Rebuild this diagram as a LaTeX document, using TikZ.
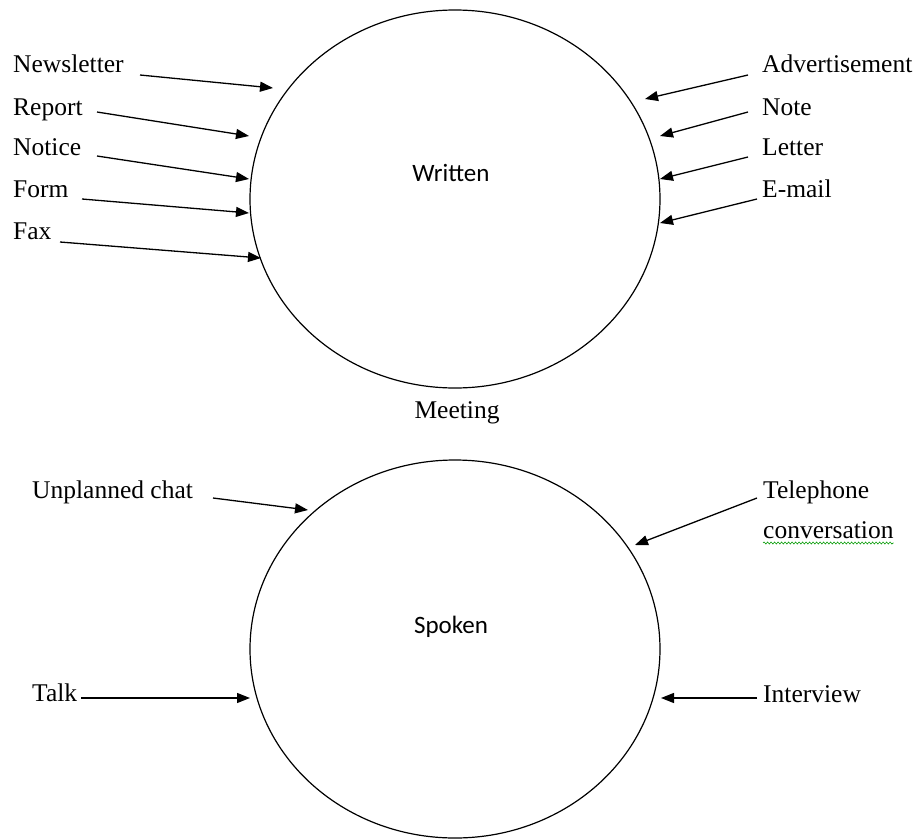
\documentclass[tikz,border=0pt]{standalone}
\usepackage{fontspec}
\setmainfont{Liberation Serif}
\newfontfamily\calfont{Carlito}
\usetikzlibrary{arrows.meta,shapes.geometric,decorations.pathmorphing}
\tikzset{
  lbl/.style={anchor=base west, inner sep=0pt, font=\fontsize{25.5}{30}\selectfont},
  ctr/.style={anchor=base, inner sep=0pt, font=\fontsize{25.5}{30}\selectfont},
  big/.style={draw, ellipse, line width=1.2pt, inner sep=0pt, outer sep=0pt, minimum width=410pt, minimum height=378pt},
  arr/.style={line width=1.3pt, -{Triangle[length=13pt,width=10pt]}},
  title/.style={anchor=base, inner sep=0pt, font=\calfont\fontsize{25}{30}\selectfont},
  squiggle/.style={draw=green!60!black, line width=0.6pt, decorate, decoration={snake, amplitude=1pt, segment length=3.5pt}}
}
\begin{document}
\begin{tikzpicture}[x=1pt,y=-1pt]
\useasboundingbox (0,0) rectangle (917,838);
% circles
\node[big] (W) at (455,199) {};
\node[big] (S) at (455,649) {};
\node[title] (wt) at (451,181) {Written};
\node[title] (st) at (451,633) {Spoken};
\node[ctr] (meet) at (457,418) {Meeting};
% left labels (written)
\node[lbl] (nl) at (13,72) {Newsletter};
\node[lbl] (rp) at (13,115) {Report};
\node[lbl] (nt) at (13,155) {Notice};
\node[lbl] (fm) at (13,197) {Form};
\node[lbl] (fx) at (13,239) {Fax};
% right labels (written)
\node[lbl] (ad) at (762,72) {Advertisement};
\node[lbl] (no) at (762,115) {Note};
\node[lbl] (le) at (762,155) {Letter};
\node[lbl] (em) at (762,197) {E-mail};
% spoken labels
\node[lbl] (uc) at (32,498) {Unplanned chat};
\node[lbl] (tk) at (32,701) {Talk};
\node[lbl] (tel) at (763,498) {Telephone};
\node[lbl] (conv) at (763,538) {conversation};
\node[lbl] (iv) at (763,702) {Interview};
% arrow coordinates
\coordinate (nlA) at (140,75);  \coordinate (nlB) at (273,88);
\coordinate (rpA) at (97,112);  \coordinate (rpB) at (249,136);
\coordinate (ntA) at (97,156);  \coordinate (ntB) at (249,179);
\coordinate (fmA) at (82,199);  \coordinate (fmB) at (249,213);
\coordinate (fxA) at (60,242);  \coordinate (fxB) at (261,258);
\coordinate (adA) at (748,75);  \coordinate (adB) at (645,99);
\coordinate (noA) at (748,112); \coordinate (noB) at (660,136);
\coordinate (leA) at (748,157); \coordinate (leB) at (660,179);
\coordinate (emA) at (757,199); \coordinate (emB) at (660,223);
\coordinate (ucA) at (213,498); \coordinate (ucB) at (308,510);
\coordinate (tkA) at (81,698);  \coordinate (tkB) at (250,698);
\coordinate (telA) at (757,498); \coordinate (telB) at (635,545);
\coordinate (ivA) at (757,698); \coordinate (ivB) at (661,698);
\draw[arr] (nlA) -- (nlB);
\draw[arr] (rpA) -- (rpB);
\draw[arr] (ntA) -- (ntB);
\draw[arr] (fmA) -- (fmB);
\draw[arr] (fxA) -- (fxB);
\draw[arr] (adA) -- (adB);
\draw[arr] (noA) -- (noB);
\draw[arr] (leA) -- (leB);
\draw[arr] (emA) -- (emB);
\draw[arr] (ucA) -- (ucB);
\draw[arr] (tkA) -- (tkB);
\draw[arr] (telA) -- (telB);
\draw[arr] (ivA) -- (ivB);
% spell-check underline
\draw[squiggle] ([yshift=-5pt]conv.base west) -- ([yshift=-5pt]conv.base east);
\end{tikzpicture}
\end{document}
